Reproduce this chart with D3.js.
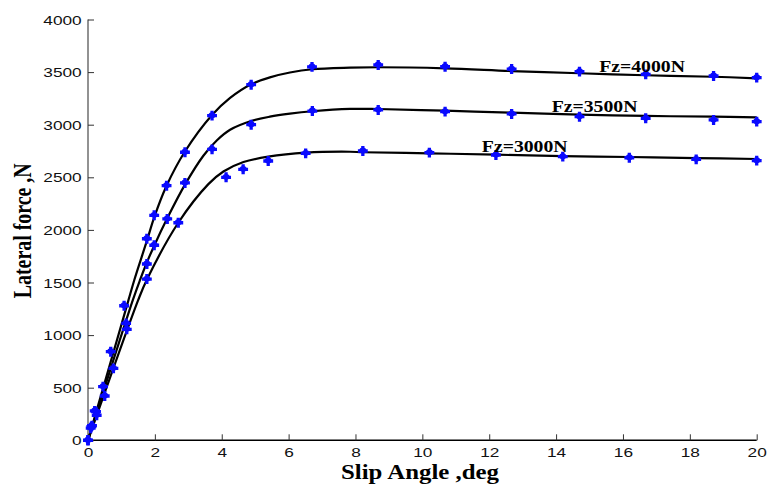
<!DOCTYPE html>
<html>
<head>
<meta charset="utf-8">
<script src="https://cdn.jsdelivr.net/npm/d3@7"></script>
<style>
  body { margin: 0; background: #fff; }
  svg { display: block; }
</style>
</head>
<body>
<svg id="chart" width="768" height="485"></svg>
<script>
// ---- data -------------------------------------------------------------
const xTicks = [0, 2, 4, 6, 8, 10, 12, 14, 16, 18, 20];
const yTicks = [0, 500, 1000, 1500, 2000, 2500, 3000, 3500, 4000];
const seriesLabels = ["Fz=4000N", "Fz=3500N", "Fz=3000N"];

// measured lateral force (deg, N)
const meas4000X = [0, 0.10, 0.20, 0.45, 0.68, 1.08, 1.76, 1.98, 2.35, 2.90, 3.71, 4.88, 6.70, 8.68, 10.68, 12.67, 14.70, 16.68, 18.71, 20.0];
const meas4000Y = [0, 130, 280, 510, 842, 1279, 1916, 2139, 2420, 2738, 3086, 3380, 3550, 3568, 3551, 3529, 3504, 3479, 3463, 3447];

const meas3500X = [0, 0.12, 0.24, 0.50, 1.14, 1.76, 1.98, 2.37, 2.90, 3.71, 4.88, 6.71, 8.68, 10.68, 12.67, 14.70, 16.68, 18.71, 20.0];
const meas3500Y = [0, 140, 272, 421, 1112, 1676, 1854, 2104, 2446, 2766, 3000, 3130, 3140, 3124, 3102, 3076, 3061, 3045, 3029];

const meas3000X = [0, 0.08, 0.26, 0.76, 1.16, 1.76, 2.70, 4.13, 4.64, 5.39, 6.51, 8.22, 10.21, 12.20, 14.20, 16.19, 18.19, 20.0];
const meas3000Y = [0, 115, 238, 684, 1055, 1533, 2068, 2500, 2576, 2655, 2728, 2750, 2734, 2712, 2696, 2686, 2671, 2658];

// fitted tyre model curves (deg, N)
const fit4000X = [0, 0.5, 1.0, 1.21, 1.385, 1.76, 1.98, 2.35, 2.90, 3.71, 4.25, 4.88, 5.44, 6.04, 6.71, 7.84, 8.67, 10.68, 12.67, 14.70, 16.68, 18.71, 20.0];
const fit4000Y = [0, 550, 1100, 1332, 1524, 1895, 2120, 2420, 2745, 3092, 3255, 3385, 3450, 3496, 3527, 3542, 3546, 3536, 3510, 3489, 3470, 3456, 3441];

const fit3500X = [0, 1.34, 1.556, 1.76, 1.98, 2.37, 2.90, 3.45, 3.85, 4.25, 4.88, 5.44, 6.04, 6.71, 7.84, 8.67, 10.68, 12.67, 14.70, 16.68, 18.71, 20.0];
const fit3500Y = [0, 1332, 1524, 1690, 1850, 2110, 2430, 2705, 2850, 2952, 3035, 3076, 3105, 3128, 3150, 3149, 3133, 3114, 3095, 3083, 3076, 3070];

const fit3000X = [0, 1.50, 1.756, 2.70, 3.60, 4.05, 4.65, 5.39, 6.52, 7.84, 8.22, 10.21, 12.20, 14.20, 16.19, 18.19, 20.0];
const fit3000Y = [0, 1332, 1524, 2068, 2435, 2555, 2645, 2696, 2734, 2743, 2738, 2728, 2715, 2702, 2693, 2683, 2674];

// ---- layout -----------------------------------------------------------
const plot = { left: 88, right: 756.7, top: 19.5, bottom: 440.3 };
const svg = d3.select("#chart");

const x = d3.scaleLinear().domain([0, 20]).range([plot.left, plot.right]);
const y = d3.scaleLinear().domain([0, 4000]).range([plot.bottom, plot.top]);

const zip = (xs, ys) => xs.map((v, i) => [v, ys[i]]);
const fits = [zip(fit4000X, fit4000Y), zip(fit3500X, fit3500Y), zip(fit3000X, fit3000Y)];
const measured = [zip(meas4000X, meas4000Y), zip(meas3500X, meas3500Y), zip(meas3000X, meas3000Y)];

// ---- axes -------------------------------------------------------------
const sansFont = "'Liberation Sans', Arial, Helvetica, sans-serif";
const serifFont = "'Liberation Serif', 'Times New Roman', serif";

const xAxis = d3.axisBottom(x).tickValues(xTicks).tickSize(-6).tickPadding(0).tickFormat(d3.format("d"));
const gx = svg.append("g").attr("transform", `translate(0,${plot.bottom})`).call(xAxis);
gx.select(".domain").attr("stroke", "#000").attr("stroke-width", 1.4).attr("d", `M${plot.left},0H${plot.right}`);
gx.selectAll(".tick line").attr("stroke", "#333").attr("stroke-width", 1);
gx.selectAll(".tick text")
  .attr("y", 16.4).attr("dy", null)
  .attr("font-family", sansFont).attr("font-size", 13).attr("fill", "#111")
  .attr("textLength", d => String(d).length * 9.6)
  .attr("lengthAdjust", "spacingAndGlyphs");

const yAxis = d3.axisLeft(y).tickValues(yTicks).tickSize(-6).tickPadding(0).tickFormat(d3.format("d"));
const gy = svg.append("g").attr("transform", `translate(${plot.left},0)`).call(yAxis);
gy.select(".domain").attr("stroke", "#777").attr("stroke-width", 1.6).attr("d", `M0,${plot.bottom}V${plot.top}`);
gy.selectAll(".tick line").attr("stroke", "#333").attr("stroke-width", 1);
gy.selectAll(".tick text")
  .attr("x", -6.3).attr("dy", "0.36em")
  .attr("font-family", sansFont).attr("font-size", 13).attr("fill", "#111")
  .attr("textLength", d => String(d).length * 9.6)
  .attr("lengthAdjust", "spacingAndGlyphs");

// axis titles
svg.append("text")
  .attr("x", 420).attr("y", 479.3)
  .attr("text-anchor", "middle")
  .attr("font-family", serifFont).attr("font-weight", "bold").attr("font-size", 21)
  .attr("textLength", 158).attr("lengthAdjust", "spacingAndGlyphs")
  .text("Slip Angle ,deg");

svg.append("text")
  .attr("transform", "translate(30.5,230.8) scale(1.2,1) rotate(-90)")
  .attr("text-anchor", "middle")
  .attr("font-family", serifFont).attr("font-weight", "bold").attr("font-size", 20.5)
  .attr("textLength", 135).attr("lengthAdjust", "spacingAndGlyphs")
  .text("Lateral force ,N");

// ---- curves -----------------------------------------------------------
const line = d3.line().x(d => x(d[0])).y(d => y(d[1])).curve(d3.curveCatmullRom.alpha(0.5));
svg.append("g").selectAll("path").data(fits).join("path")
  .attr("d", line)
  .attr("fill", "none").attr("stroke", "#000").attr("stroke-width", 2.2)
  .attr("stroke-linejoin", "round");

// ---- measured points --------------------------------------------------
const cross = d3.symbol(d3.symbolCross).size(54)();
const pts = svg.append("g");
measured.forEach(series => {
  const g = pts.append("g").selectAll("g").data(series).join("g")
    .attr("transform", d => `translate(${x(d[0])},${y(d[1])})`);
  g.append("path").attr("d", cross).attr("fill", "#0a0aff");
  g.append("ellipse").attr("rx", 3.5).attr("ry", 2.9).attr("cy", -0.5).attr("fill", "#0a0aff");
});

// ---- curve labels -----------------------------------------------------
const labelAnchors = [[15.29, 3505], [13.87, 3119], [11.78, 2744]];
svg.append("g").selectAll("text").data(seriesLabels).join("text")
  .attr("x", (d, i) => x(labelAnchors[i][0]))
  .attr("y", (d, i) => y(labelAnchors[i][1]))
  .attr("font-family", serifFont).attr("font-weight", "bold").attr("font-size", 17)
  .attr("textLength", 85.7).attr("lengthAdjust", "spacingAndGlyphs")
  .attr("fill", "#000")
  .text(d => d);
</script>
</body>
</html>
